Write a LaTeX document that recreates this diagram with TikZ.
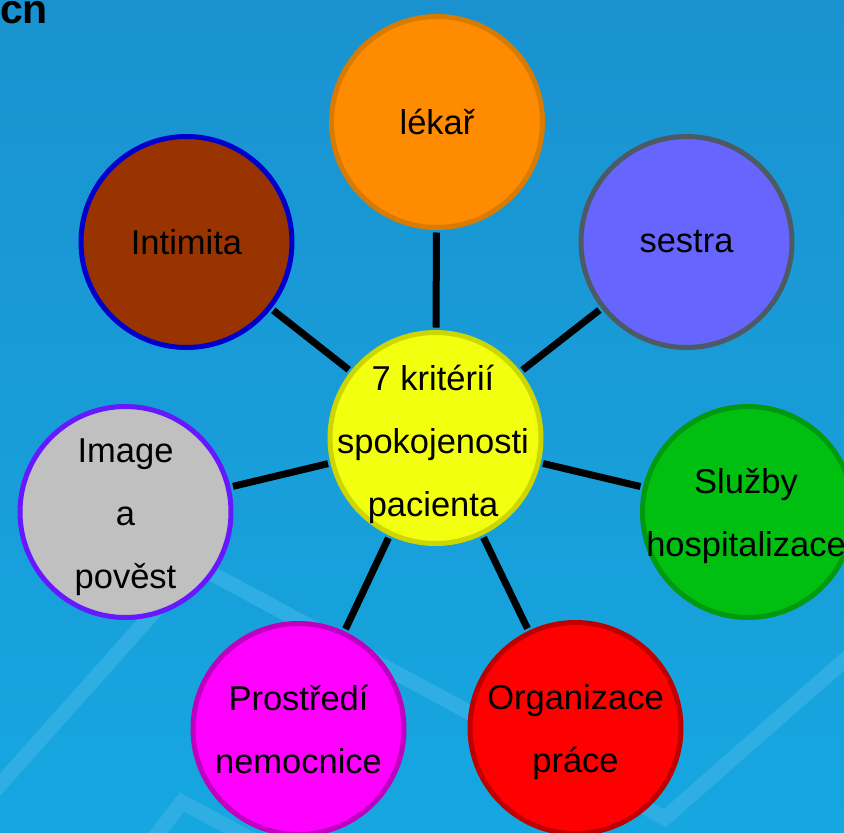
\documentclass[tikz,border=0pt]{standalone}
\usepackage{fontspec}
\setmainfont{Liberation Sans}

\definecolor{bgtop}{RGB}{26,146,208}
\definecolor{bgbot}{RGB}{22,167,224}
\definecolor{stripe}{RGB}{46,174,226}
\definecolor{lekfill}{RGB}{255,140,0}
\definecolor{lekline}{RGB}{217,123,0}
\definecolor{sesfill}{RGB}{102,102,255}
\definecolor{sesline}{RGB}{77,90,99}
\definecolor{intfill}{RGB}{153,51,0}
\definecolor{intline}{RGB}{0,0,204}
\definecolor{imgfill}{RGB}{192,192,192}
\definecolor{imgline}{RGB}{102,25,255}
\definecolor{slufill}{RGB}{0,191,16}
\definecolor{sluline}{RGB}{0,153,16}
\definecolor{orgfill}{RGB}{255,0,0}
\definecolor{orgline}{RGB}{191,0,0}
\definecolor{profill}{RGB}{255,0,255}
\definecolor{proline}{RGB}{191,0,191}
\definecolor{kritfill}{RGB}{242,255,15}
\definecolor{kritline}{RGB}{204,214,0}

\begin{document}
\begin{tikzpicture}[x=1pt,y=-1pt,
    bubble/.style={circle,minimum size=211pt,inner sep=0pt,line width=5pt},
    lbl/.style={font=\fontsize{34.5}{63}\selectfont,align=center,inner sep=0pt},
    spoke/.style={line width=7pt,black,shorten >=2.5pt,shorten <=2.5pt},
    band/.style={line width=15pt,stripe}]
    \useasboundingbox (0,0) rectangle (844,833);
    \shade[top color=bgtop,bottom color=bgbot] (0,0) rectangle (844,833);
    \draw[band] (-20,807) -- (196,565) -- (665,818) -- (880,629);
    \draw[band] (145,850) -- (182,802) -- (271,850);

    \node[font=\fontsize{41}{41}\selectfont\bfseries,anchor=base west,inner sep=0pt] (title) at (0,23) {cn};

    \node[bubble,fill=kritfill,draw=kritline] (krit) at (435.5,438) {};
    \node[bubble,fill=lekfill,draw=lekline] (lekar) at (437,122) {};
    \node[bubble,fill=sesfill,draw=sesline] (sestra) at (686.5,242) {};
    \node[bubble,fill=intfill,draw=intline] (intimita) at (186.5,242) {};
    \node[bubble,fill=imgfill,draw=imgline] (image) at (125.5,512) {};
    \node[bubble,fill=slufill,draw=sluline] (sluzby) at (748,512) {};
    \node[bubble,fill=profill,draw=proline] (prostredi) at (298.5,729) {};
    \node[bubble,fill=orgfill,draw=orgline] (organizace) at (575.5,728) {};

    \draw[spoke] (krit) -- (lekar);
    \draw[spoke] (krit) -- (sestra);
    \draw[spoke] (krit) -- (intimita);
    \draw[spoke] (krit) -- (image);
    \draw[spoke] (krit) -- (sluzby);
    \draw[spoke] (krit) -- (prostredi);
    \draw[spoke] (krit) -- (organizace);

    \node[lbl,yshift=-6pt] (krit-t) at (433,438) {7 kritérií\\spokojenosti\\pacienta};
    \node[lbl] (lekar-t) at (lekar) {lékař};
    \node[lbl] (sestra-t) at (sestra) {sestra};
    \node[lbl] (intimita-t) at (intimita) {Intimita};
    \node[lbl,yshift=-5.5pt] (image-t) at (image) {Image\\a\\pověst};
    \node[lbl,yshift=-4pt] (sluzby-t) at (746,512) {Služby\\hospitalizace};
    \node[lbl] (prostredi-t) at (prostredi) {Prostředí\\nemocnice};
    \node[lbl,yshift=-4pt] (organizace-t) at (organizace) {Organizace\\práce};
\end{tikzpicture}
\end{document}
